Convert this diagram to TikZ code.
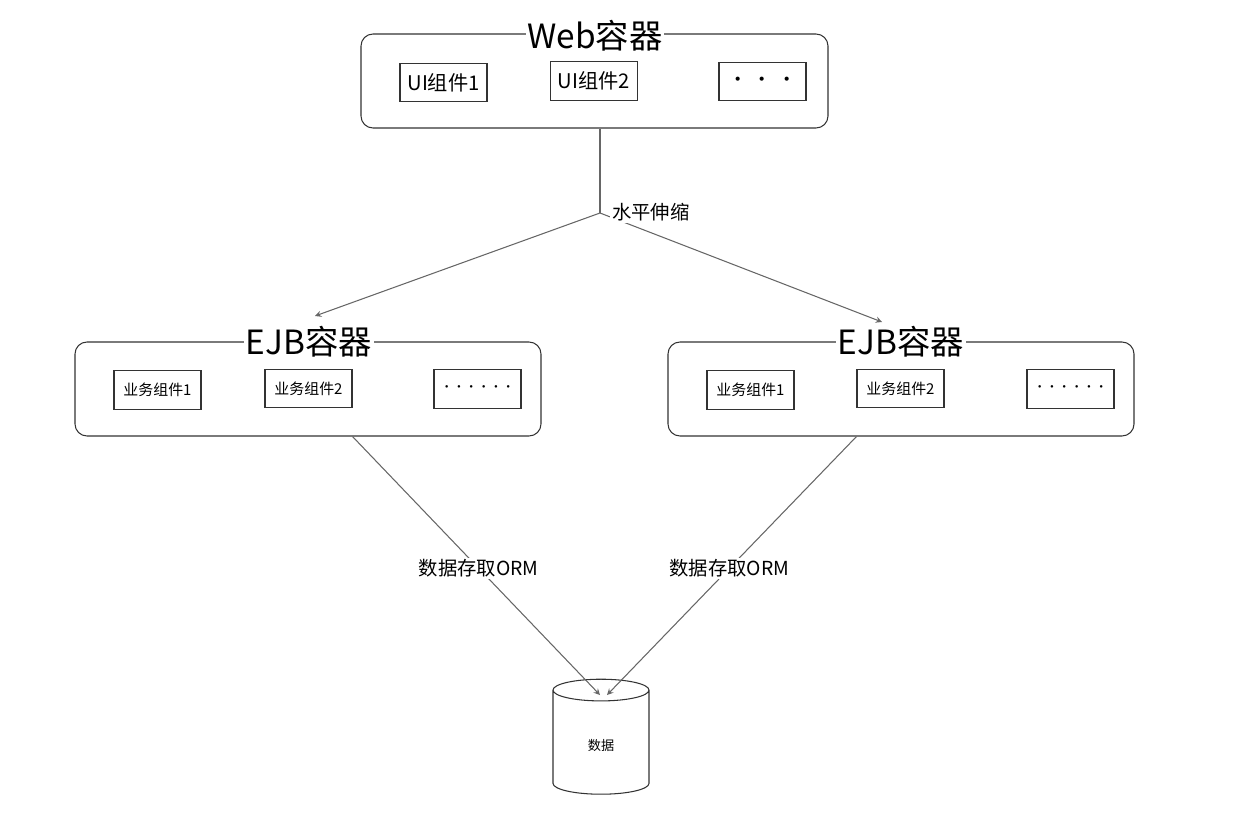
\documentclass[tikz,border=0pt]{standalone}
\usepackage{fontspec}
\setmainfont{Noto Sans CJK SC}
\usetikzlibrary{arrows,shapes.geometric}

\begin{document}
\begin{tikzpicture}[x=0.2mm, y=-0.2mm, >=stealth,
  container/.style={draw=black!80, line width=0.6pt, rounded corners=2.4mm, minimum width=93.2mm, minimum height=18.8mm},
  title/.style={fill=white, inner sep=1pt, font=\fontsize{19}{20}\selectfont},
  part/.style={draw=black!80, line width=0.6pt, minimum width=17.4mm, minimum height=7.7mm, inner sep=0pt},
  link/.style={draw=black!60, line width=0.6pt}]
  \useasboundingbox (0,0) rectangle (1240,824);
  % web container
  \node[container, minimum width=93.4mm] (web) at (594.5,81) {};
  \node[title] (webt) at (595,36) {Web容器};
  \node[part, font=\fontsize{11.5}{12}\selectfont] (ui1) at (443.5,82.5) {UI组件1};
  \node[part, font=\fontsize{11.5}{12}\selectfont] (ui2) at (594,81) {UI组件2};
  \node[part, font=\fontsize{11}{11}\selectfont] (ui3) at (762.5,81.5) {•\hspace{3pt}•\hspace{3pt}•};
  % EJB containers
  \node[container] (ejbl) at (308,389) {};
  \node[title] (ejblt) at (309,342) {EJB容器};
  \node[part, font=\fontsize{8.5}{9}\selectfont] (lb1) at (157.5,390) {业务组件1};
  \node[part, font=\fontsize{8.5}{9}\selectfont] (lb2) at (308.5,388.5) {业务组件2};
  \node[part, font=\fontsize{7}{8}\selectfont] (lb3) at (477.5,389) {······};
  \node[container] (ejbr) at (901,389) {};
  \node[title] (ejbrt) at (901,342) {EJB容器};
  \node[part, font=\fontsize{8.5}{9}\selectfont] (rb1) at (750.5,390) {业务组件1};
  \node[part, font=\fontsize{8.5}{9}\selectfont] (rb2) at (900.5,388.5) {业务组件2};
  \node[part, font=\fontsize{7}{8}\selectfont] (rb3) at (1070.5,389) {······};
  % data
  \node[cylinder, shape border rotate=90, draw=black!80, line width=0.6pt, aspect=0.57,
        minimum width=19.2mm, minimum height=23mm, font=\fontsize{7.5}{8}\selectfont] (db) at (601,745) {数据};
  \coordinate (split) at (600,213);
  \coordinate (lin) at (315,316);
  \coordinate (rin) at (882,322);
  \coordinate (dbl) at (600,695);
  \coordinate (dbr) at (607,695);

  \path[link] (web.south -| split) -- (split);
  \path[link,->] (split) -- (lin);
  \path[link,->] (split) -- (rin);
  \node[fill=white, inner sep=1pt, anchor=west, font=\fontsize{11}{12}\selectfont] (hs) at (610,212) {水平伸缩};
  \path[link,->] (ejbl.south -| lb2.east) -- node[fill=white, inner sep=1pt, pos=0.51, font=\fontsize{11}{12}\selectfont] (orml) {数据存取ORM} (dbl);
  \path[link,->] (ejbr.south -| rb2.west) -- node[fill=white, inner sep=1pt, pos=0.51, font=\fontsize{11}{12}\selectfont] (ormr) {数据存取ORM} (dbr);
\end{tikzpicture}
\end{document}
